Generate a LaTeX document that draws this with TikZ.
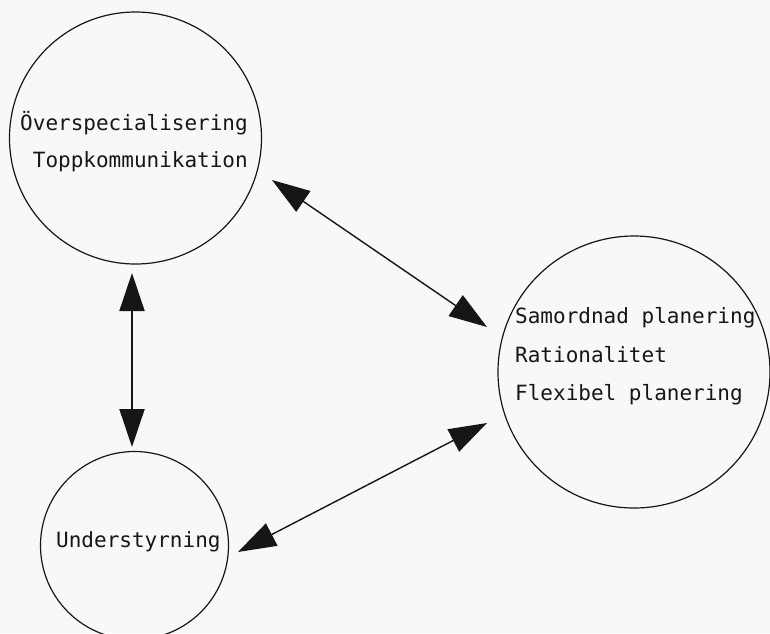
\documentclass[tikz,border=0pt]{standalone}
\usepackage{fontspec}
\newfontfamily\typewriter{DejaVu Sans Mono}
\usetikzlibrary{arrows.meta}
\definecolor{paper}{RGB}{248,248,246}
\definecolor{ink}{RGB}{22,22,22}

\begin{document}
\begin{tikzpicture}[x=1pt,y=-1pt,
  ring/.style={circle, draw=ink, line width=1.2pt, inner sep=0pt},
  txt/.style={inner sep=0pt, text=ink, font=\typewriter\fontsize{21}{25}\selectfont},
  link/.style={draw=ink, line width=1.4pt,
    {Triangle[length=38pt,width=25pt]}-{Triangle[length=38pt,width=25pt]}}
]
  % paper
  \fill[paper] (0,0) rectangle (770,633);
  \useasboundingbox (0,0) rectangle (770,633);

  % the three circles
  \node[ring, minimum size=252pt] (top) at (135.5,138) {};
  \node[ring, minimum size=272pt] (right) at (634,372) {};
  \node[ring, minimum size=188pt] (bottom) at (134.5,545.5) {};

  % texts
  \node[txt, anchor=base east] (t1) at (248,130) {Överspecialisering};
  \node[txt, anchor=base east] (t2) at (248,167) {Toppkommunikation};
  \node[txt, anchor=base west] (r1) at (515,323) {Samordnad planering};
  \node[txt, anchor=base west] (r2) at (515,362) {Rationalitet};
  \node[txt, anchor=base west] (r3) at (515,400) {Flexibel planering};
  \node[txt, anchor=base west] (b1) at (56,547) {Understyrning};

  % arrow ends
  \coordinate (v1) at (132,273);
  \coordinate (v2) at (132,447);
  \coordinate (d1) at (272,180);
  \coordinate (d2) at (487,327);
  \coordinate (e1) at (238,552);
  \coordinate (e2) at (487,423);

  % connectors
  \draw[link, line width=2pt] (v1) -- (v2);
  \draw[link] (d1) -- (d2);
  \draw[link] (e1) -- (e2);
\end{tikzpicture}
\end{document}
